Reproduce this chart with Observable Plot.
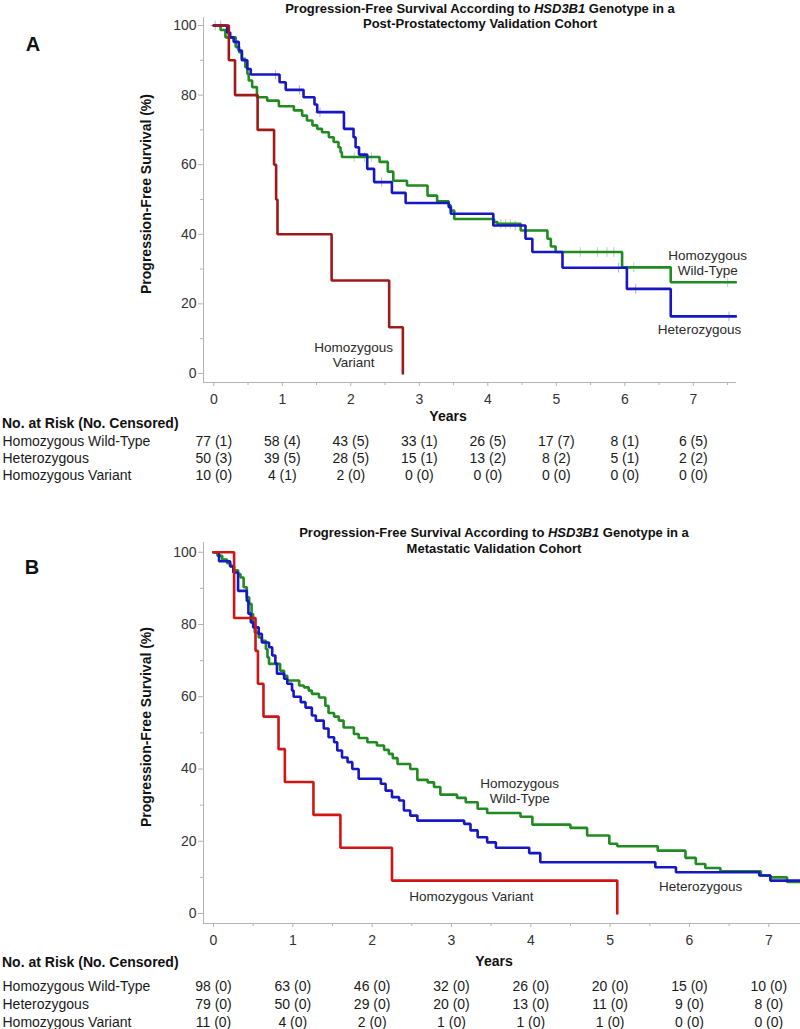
<!DOCTYPE html>
<html><head><meta charset="utf-8">
<script src="https://cdn.jsdelivr.net/npm/d3@7"></script>
<script src="https://cdn.jsdelivr.net/npm/@observablehq/plot@0.6"></script>
<style>
html,body{margin:0;padding:0;background:#fff;}
#root{position:relative;width:800px;height:1029px;overflow:hidden;font-family:Arial,"Liberation Sans",Helvetica,sans-serif;color:#111;}
.abs{position:absolute;white-space:nowrap;line-height:1;}
.svgbox{position:absolute;left:0;}
.svgbox svg{display:block;}
</style></head><body><div id="root"></div>
<script>
// ---------------- DATA ----------------
const years = [0, 1, 2, 3, 4, 5, 6, 7];
const genotypes = ["Homozygous Wild-Type", "Heterozygous", "Homozygous Variant"];

// Panel A: post-prostatectomy cohort (time in years, PFS %)
const aWildT = [0, 0.10, 0.17, 0.32, 0.37, 0.41, 0.46, 0.49, 0.51, 0.56, 0.63, 0.78, 0.95, 1.17, 1.29, 1.36, 1.44, 1.51, 1.58, 1.68, 1.75, 1.82, 1.85, 1.87, 2.42, 2.54, 2.62, 2.82, 3.12, 3.26, 3.43, 3.46, 3.51, 4.09, 4.14, 4.48, 4.87, 4.92, 4.99, 5.96, 6.67, 7.62];
const aWildS = [100, 98.7, 96.6, 93.8, 92.3, 90.4, 88.0, 86.1, 84.2, 82.3, 79.4, 78.4, 76.8, 75.6, 74.1, 72.7, 71.3, 70.3, 69.3, 67.9, 66.5, 65.0, 63.6, 62.2, 60.8, 58.0, 55.4, 54.0, 51.1, 49.5, 48.3, 46.8, 44.4, 43.5, 43.0, 41.1, 38.7, 36.5, 34.9, 30.5, 26.2, 26.2];
const aHetT = [0, 0.195, 0.24, 0.29, 0.365, 0.41, 0.49, 0.54, 0.96, 1.05, 1.31, 1.47, 1.51, 1.90, 2.04, 2.07, 2.12, 2.24, 2.34, 2.60, 2.80, 3.43, 3.46, 4.08, 4.55, 4.65, 5.09, 6.03, 6.67, 7.62];
const aHetS = [100, 98.0, 96.6, 95.3, 92.8, 90.0, 87.5, 85.9, 83.7, 81.5, 79.4, 77.3, 75.1, 70.3, 67.9, 65.0, 62.9, 58.8, 55.0, 51.9, 49.0, 47.8, 45.9, 42.5, 38.7, 34.9, 30.4, 24.3, 16.4, 16.4];
const aVarT = [0, 0.22, 0.31, 0.64, 0.88, 0.91, 0.93, 1.72, 2.56, 2.76];
const aVarS = [100, 90, 80, 70, 60, 50, 40, 26.7, 13.3, 0];
const aWildCensor = [2.05, 2.2, 2.3, 4.19, 4.26, 4.33, 5.35, 5.6, 5.74, 5.84, 6.13, 7.5];
const aHetCensor = [0.02, 0.1, 0.9, 1.25, 1.55, 2.45, 4.4, 5.91, 6.16, 7.52];

const aRiskWild = [77, 58, 43, 33, 26, 17, 8, 6];
const aCensWild = [1, 4, 5, 1, 5, 7, 1, 5];
const aRiskHet = [50, 39, 28, 15, 13, 8, 5, 2];
const aCensHet = [3, 5, 5, 1, 2, 2, 1, 2];
const aRiskVar = [10, 4, 2, 0, 0, 0, 0, 0];
const aCensVar = [0, 1, 0, 0, 0, 0, 0, 0];

// Panel B: metastatic cohort
const bWildT = [0, 0.05, 0.11, 0.17, 0.21, 0.26, 0.31, 0.34, 0.38, 0.42, 0.45, 0.48, 0.50, 0.52, 0.57, 0.61, 0.66, 0.68, 0.70, 0.84, 0.89, 0.93, 1.08, 1.14, 1.20, 1.24, 1.33, 1.41, 1.45, 1.52, 1.58, 1.64, 1.77, 1.83, 1.94, 2.06, 2.15, 2.21, 2.26, 2.32, 2.48, 2.57, 2.70, 2.78, 2.86, 3.07, 3.18, 3.33, 3.45, 3.87, 4.02, 4.50, 4.71, 4.99, 5.09, 5.60, 5.95, 6.08, 6.20, 6.39, 6.90, 7.02, 7.23, 7.40];
const bWildS = [100, 99.0, 98.0, 97.0, 96.0, 95.0, 94.0, 93.0, 90.3, 87.5, 85.7, 82.9, 80.1, 77.8, 76.4, 75.5, 73.2, 70.9, 69.1, 67.2, 65.8, 64.5, 63.1, 62.6, 61.7, 60.8, 59.8, 57.5, 55.5, 54.5, 53.4, 51.5, 49.7, 48.6, 47.4, 46.5, 45.3, 44.2, 43.0, 41.4, 40.0, 37.0, 36.3, 35.0, 32.9, 32.0, 30.8, 29.0, 27.8, 26.8, 24.6, 23.7, 21.6, 19.3, 18.6, 17.4, 15.4, 13.7, 12.6, 11.7, 10.5, 10.0, 8.7, 8.7];
const bHetT = [0, 0.07, 0.21, 0.25, 0.31, 0.42, 0.44, 0.47, 0.50, 0.57, 0.61, 0.70, 0.74, 0.78, 0.80, 0.89, 0.93, 0.99, 1.01, 1.10, 1.16, 1.24, 1.29, 1.39, 1.45, 1.52, 1.56, 1.62, 1.69, 1.75, 1.83, 2.11, 2.17, 2.25, 2.34, 2.40, 2.48, 2.57, 3.16, 3.24, 3.33, 3.45, 3.56, 3.98, 4.12, 5.57, 5.83, 6.88, 7.02, 7.40];
const bHetS = [100, 97.5, 96.2, 94.4, 89.3, 86.5, 83.0, 80.6, 79.2, 77.4, 75.0, 73.7, 71.4, 69.2, 66.4, 65.0, 63.6, 61.7, 60.0, 58.5, 57.0, 54.8, 53.4, 51.2, 48.8, 47.4, 45.1, 43.2, 41.9, 40.0, 37.3, 35.9, 34.0, 32.2, 31.3, 28.5, 27.1, 25.7, 24.8, 23.0, 21.1, 19.7, 18.2, 16.7, 14.2, 12.8, 11.4, 10.5, 9.1, 9.1];
const bVarT = [0, 0.26, 0.53, 0.56, 0.63, 0.82, 0.90, 1.26, 1.60, 2.25, 5.09];
const bVarS = [100, 81.8, 72.7, 63.6, 54.5, 45.5, 36.4, 27.3, 18.2, 9.1, 0];

const bRiskWild = [98, 63, 46, 32, 26, 20, 15, 10];
const bCensWild = [0, 0, 0, 0, 0, 0, 0, 0];
const bRiskHet = [79, 50, 29, 20, 13, 11, 9, 8];
const bCensHet = [0, 0, 0, 0, 0, 0, 0, 0];
const bRiskVar = [11, 4, 2, 1, 1, 1, 0, 0];
const bCensVar = [0, 0, 0, 0, 0, 0, 0, 0];

const yMajor = [0, 20, 40, 60, 80, 100];
const yMinor = [10, 30, 50, 70, 90];

// ---------------- STYLE ----------------
const FONT = 'Arial, "Liberation Sans", Helvetica, sans-serif';
const AXIS = "#b4b4b4";
const GREEN = "#218a21";
const BLUE = "#1717c4";
const RED_A = "#9e1a1a";
const RED_B = "#d01515";

const root = document.getElementById("root");

function stepAt(T, S, t) { let v = S[0]; for (let i = 0; i < T.length; i++) if (T[i] <= t) v = S[i]; return v; }

function addText(html, x, y, css, anchor = "middle") {
  const d = document.createElement("div");
  d.className = "abs";
  d.innerHTML = html;
  d.style.left = x + "px";
  d.style.top = y + "px";
  d.style.transform = anchor === "start" ? "translate(0,-50%)" : "translate(-50%,-50%)";
  Object.assign(d.style, css);
  root.appendChild(d);
  return d;
}

function place(svg, top) {
  const box = document.createElement("div");
  box.className = "svgbox";
  box.style.top = top + "px";
  box.appendChild(svg);
  root.appendChild(box);
}

function kmPlot(o) {
  const xMinor = d3.range(0.5, o.xDom[1], 1);
  const marks = [
    Plot.ruleX([o.xDom[0]], {stroke: AXIS}),
    Plot.ruleY([o.yDom[0]], {stroke: AXIS}),
    Plot.axisX({ticks: years, tickSize: 4, tickPadding: o.xPad, color: "#333", stroke: AXIS, label: null, tickFormat: d => d}),
    Plot.axisX({ticks: xMinor, tickSize: 3, color: "#333", stroke: AXIS, label: null, tickFormat: () => ""}),
    Plot.axisY({ticks: yMajor, tickSize: 5, tickPadding: 2, color: "#333", stroke: AXIS, label: null, tickFormat: d => d}),
    Plot.axisY({ticks: yMinor, tickSize: 3, color: "#333", stroke: AXIS, label: null, tickFormat: () => ""})
  ];
  for (const c of o.censors) {
    marks.push(Plot.dot(c.times.map(t => ({t, v: stepAt(c.T, c.S, t)})),
      {x: "t", y: "v", symbol: "plus", r: 3.2, stroke: c.color, strokeOpacity: 0.35, strokeWidth: 1}));
  }
  for (const s of o.series) {
    marks.push(Plot.line(s.T.map((t, i) => ({t, v: s.S[i]})),
      {x: "t", y: "v", curve: "step-after", stroke: s.color, strokeWidth: 2.6, strokeLinejoin: "miter"}));
  }
  for (const n of o.notes) {
    marks.push(Plot.text([n.text], {x: n.x, y: n.y, text: d => d, fill: "#2a2a2a", fontSize: 13.5, lineHeight: 1.12}));
  }
  return Plot.plot({
    width: 800, height: o.height,
    marginTop: o.mt, marginBottom: o.mb, marginLeft: 203, marginRight: o.mr,
    x: {domain: o.xDom}, y: {domain: o.yDom},
    style: {background: "transparent", fontFamily: FONT, fontSize: "14px", color: "#333", overflow: "visible"},
    marks
  });
}

function riskTable(o) {
  const cells = o.rows.flatMap(r => years.map((yr, j) => ({row: r.name, t: yr, label: `${r.risk[j]} (${r.cens[j]})`})));
  return Plot.plot({
    width: 800, height: o.height,
    marginTop: 0, marginBottom: 0, marginLeft: 203, marginRight: o.mr,
    x: {domain: o.xDom, axis: null},
    y: {type: "point", domain: o.rows.map(r => r.name), range: o.range, padding: 0, axis: null},
    style: {background: "transparent", fontFamily: FONT, fontSize: "14px", color: "#1a1a1a", overflow: "visible"},
    marks: [
      Plot.text(cells, {x: "t", y: "row", text: "label", fill: "#1a1a1a", fontSize: 14}),
      Plot.text(o.rows.map(r => r.name), {y: d => d, text: d => d, frameAnchor: "left", textAnchor: "start", dx: 2 - 203, fill: "#1a1a1a", fontSize: 14})
    ]
  });
}

// ---------------- PANEL A ----------------
const xDomA = [-0.15, 7.63], yDomA = [-2.6, 102.3];
place(kmPlot({
  xDom: xDomA, yDom: yDomA, height: 425, mt: 17, mb: 43, mr: 64, xPad: 8,
  series: [
    {T: aWildT, S: aWildS, color: GREEN},
    {T: aHetT, S: aHetS, color: BLUE},
    {T: aVarT, S: aVarS, color: RED_A}
  ],
  censors: [
    {times: aWildCensor, T: aWildT, S: aWildS, color: GREEN},
    {times: aHetCensor, T: aHetT, S: aHetS, color: BLUE}
  ],
  notes: [
    {text: "Homozygous\nVariant", x: 2.04, y: 5.3},
    {text: "Homozygous\nWild-Type", x: 7.21, y: 31.9},
    {text: "Heterozygous", x: 7.09, y: 12.6}
  ]
}), 0);
place(riskTable({
  xDom: xDomA, mr: 64, height: 55, range: [11, 45],
  rows: [
    {name: genotypes[0], risk: aRiskWild, cens: aCensWild},
    {name: genotypes[1], risk: aRiskHet, cens: aCensHet},
    {name: genotypes[2], risk: aRiskVar, cens: aCensVar}
  ]
}), 430);

// ---------------- PANEL B ----------------
const xDomB = [-0.126, 7.40], yDomB = [-2.77, 102.7];
place(kmPlot({
  xDom: xDomB, yDom: yDomB, height: 455, mt: 42, mb: 32, mr: 0, xPad: 8,
  series: [
    {T: bWildT, S: bWildS, color: GREEN},
    {T: bHetT, S: bHetS, color: BLUE},
    {T: bVarT, S: bVarS, color: RED_B}
  ],
  censors: [],
  notes: [
    {text: "Homozygous\nWild-Type", x: 3.86, y: 33.9},
    {text: "Heterozygous", x: 6.14, y: 7.7},
    {text: "Homozygous Variant", x: 3.25, y: 4.7}
  ]
}), 500);
place(riskTable({
  xDom: xDomB, mr: 0, height: 55, range: [11, 48],
  rows: [
    {name: genotypes[0], risk: bRiskWild, cens: bCensWild},
    {name: genotypes[1], risk: bRiskHet, cens: bCensHet},
    {name: genotypes[2], risk: bRiskVar, cens: bCensVar}
  ]
}), 974);

// ---------------- TEXT ----------------
const titleCss = {fontWeight: "bold", fontSize: "13px", color: "#111"};
addText("Progression-Free Survival According to <i>HSD3B1</i> Genotype in a", 480, 8, titleCss);
addText("Post-Prostatectomy Validation Cohort", 480, 23, titleCss);
addText("Progression-Free Survival According to <i>HSD3B1</i> Genotype in a", 494, 532, titleCss);
addText("Metastatic Validation Cohort", 494, 548, titleCss);

const panelCss = {fontWeight: "bold", fontSize: "20px", color: "#111"};
addText("A", 33, 44, panelCss);
addText("B", 32, 567, panelCss);

const axisTitleCss = {fontWeight: "bold", fontSize: "14px", color: "#111"};
const ya = addText("Progression-Free Survival (%)", 146, 194, axisTitleCss);
ya.style.transform = "translate(-50%,-50%) rotate(-90deg)";
const yb = addText("Progression-Free Survival (%)", 146, 727, axisTitleCss);
yb.style.transform = "translate(-50%,-50%) rotate(-90deg)";

addText("Years", 448, 416, axisTitleCss);
addText("Years", 494, 961, axisTitleCss);
addText("No. at Risk (No. Censored)", 2, 423, axisTitleCss, "start");
addText("No. at Risk (No. Censored)", 2, 962, axisTitleCss, "start");
</script></body></html>
